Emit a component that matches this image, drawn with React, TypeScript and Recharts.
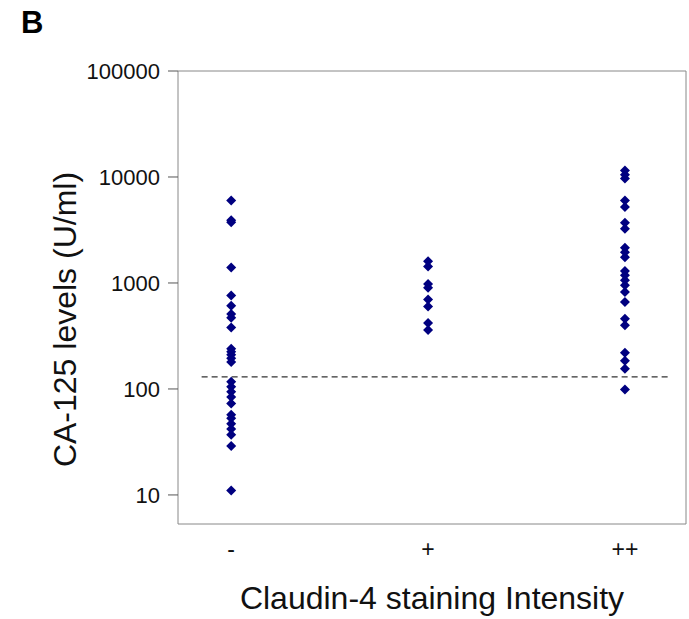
import React from "react";
import {
  ScatterChart,
  Scatter,
  XAxis,
  YAxis,
  ReferenceLine,
  ReferenceArea,
  Label,
} from "recharts";

const categories = ["-", "+", "++"];
const negValues = [6000, 3900, 3750, 1400, 760, 610, 510, 470, 380, 240, 225, 210, 195, 180, 117, 105, 94, 84, 73, 57, 53, 47, 42, 37, 29, 11];
const posValues = [1600, 1430, 980, 900, 700, 600, 420, 360];
const ppValues = [11500, 10500, 9700, 6000, 5200, 3700, 3250, 2150, 1950, 1750, 1300, 1180, 1060, 950, 820, 660, 460, 400, 220, 185, 155, 99];
const yTicks = [10, 100, 1000, 10000, 100000];
const cutoff = 130;

const toPoints = (vals: number[], idx: number) => vals.map((v) => ({ x: idx, y: v }));
const allPoints = [
  ...toPoints(negValues, 0),
  ...toPoints(posValues, 1),
  ...toPoints(ppValues, 2),
];

const Diamond = (props: any) => {
  const { cx, cy } = props;
  const r = 5;
  return (
    <polygon
      points={`${cx},${cy - r} ${cx + r},${cy} ${cx},${cy + r} ${cx - r},${cy}`}
      fill="#000080"
    />
  );
};

const font = "'Liberation Sans', Arial, Helvetica, sans-serif";

export default function App() {
  return (
    <div style={{ position: "absolute", left: 0, top: 0, width: 689, height: 619, background: "#fff" }}>
      <div
        style={{
          position: "absolute",
          left: 21,
          top: 5,
          fontFamily: font,
          fontWeight: "bold",
          fontSize: 31,
          lineHeight: "36px",
          color: "#000",
        }}
      >
        B
      </div>
      <ScatterChart
        width={689}
        height={619}
        margin={{ top: 71, right: 3, bottom: 0, left: 0 }}
        style={{ fontFamily: font }}
      >
        <ReferenceArea
          x1={-0.27}
          x2={2.31}
          y1={5.32}
          y2={100000}
          fill="none"
          stroke="#888"
          strokeWidth={1}
          ifOverflow="visible"
        />
        <XAxis
          type="number"
          dataKey="x"
          domain={[-0.27, 2.31]}
          ticks={[0, 1, 2]}
          tickFormatter={(v: number) => categories[v]}
          axisLine={false}
          tickLine={false}
          tickSize={6}
          tickMargin={11}
          height={95}
          tick={{ fill: "#111", fontSize: 23 }}
          allowDataOverflow
        >
          <Label
            value="Claudin-4 staining Intensity"
            position="center"
            dy={26}
            style={{ fill: "#111", fontSize: 32 }}
          />
        </XAxis>
        <YAxis
          type="number"
          dataKey="y"
          scale="log"
          domain={[5.32, 100000]}
          ticks={yTicks}
          allowDataOverflow
          width={178}
          axisLine={false}
          tickLine={{ stroke: "#555" }}
          tickSize={10}
          tickMargin={8}
          tick={{ fill: "#111", fontSize: 22 }}
        >
          <Label
            value="CA-125 levels (U/ml)"
            angle={-90}
            position="center"
            dx={-24}
            dy={22}
            style={{ fill: "#111", fontSize: 32, textAnchor: "middle" }}
          />
        </YAxis>
        <ReferenceLine
          segment={[
            { x: -0.15, y: cutoff },
            { x: 2.23, y: cutoff },
          ]}
          stroke="#333"
          strokeDasharray="6 4"
          strokeWidth={1.2}
        />
        <Scatter data={allPoints} shape={Diamond} isAnimationActive={false} />
      </ScatterChart>
    </div>
  );
}
